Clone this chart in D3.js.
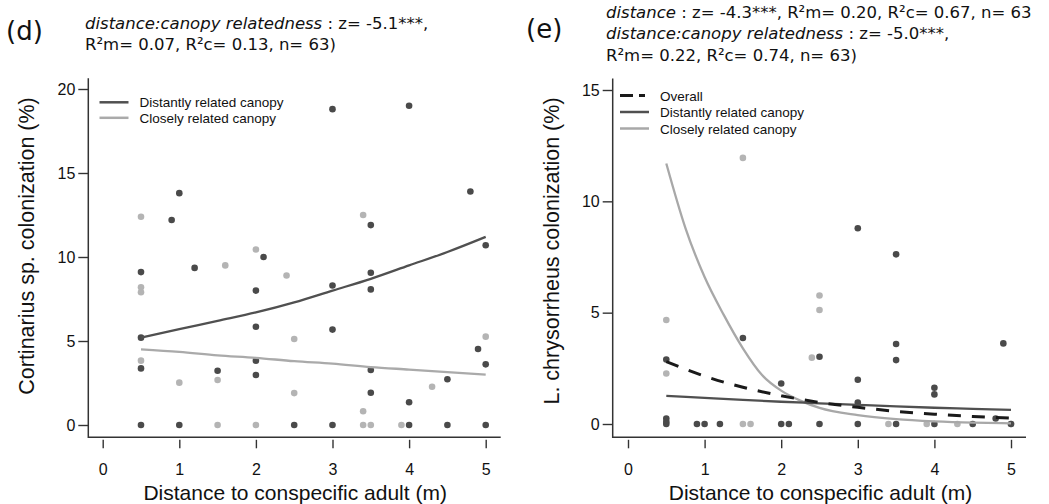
<!DOCTYPE html>
<meta charset="utf-8">
<script src="https://d3js.org/d3.v7.min.js"></script>
<style>
  body { margin: 0; background: #fff; }
  text { font-family: "Liberation Sans", Arial, sans-serif; }
  .note { font-family: "DejaVu Sans", Verdana, sans-serif; font-size: 16.5px; fill: #111; }
</style>
<div id="my_dataviz"></div>
<script>
// panel (d) : Cortinarius sp. colonization, points [distance, %]
var dDistant = [
  [0.5,9.1],[0.5,5.2],[0.5,3.37],[0.5,0],[0.9,12.2],[1,13.8],[1,0],[1.2,9.35],[1.5,3.23],
  [2,8.0],[2,5.85],[2,3.83],[2,2.98],[2.1,10.0],[2.5,0],[3,18.8],[3,8.3],[3,5.68],[3,0],
  [3.5,11.9],[3.5,9.06],[3.5,8.07],[3.5,3.27],[3.5,1.92],[4,19.0],[4,1.35],[4,0],
  [4.5,2.72],[4.5,0],[4.8,13.9],[4.9,4.52],[5,10.7],[5,3.61],[5,0]
];
var dClose = [
  [0.5,12.4],[0.5,8.2],[0.5,7.9],[0.5,3.83],[1,2.52],[1.5,2.68],[1.5,0],[1.6,9.5],
  [2,10.45],[2,0],[2.4,8.9],[2.5,5.12],[2.5,1.9],[3.4,12.5],[3.4,0.82],[3.4,0],
  [3.5,0],[3.9,0],[4.3,2.28],[5,5.26]
];
// fitted curves
var fitX = [0.5,1,1.5,2,2.5,3,3.5,4,4.5,5];
var dFitDistant = [5.2,5.7,6.2,6.7,7.3,8.0,8.7,9.5,10.3,11.2];
var dFitClose = [4.5,4.35,4.15,4.0,3.8,3.65,3.45,3.3,3.15,3.0];

// panel (e) : L. chrysorrheus colonization
var eDistant = [
  [0.5,2.9],[0.5,0.25],[0.5,0.1],[0.5,0],[0.9,0],[1,0],[1.2,0],[1.5,3.86],
  [2,1.82],[2,0],[2.1,0],[2.5,3.02],[2.5,0],[3,8.79],[3,1.99],[3,0.96],[3,0],
  [3.5,7.62],[3.5,3.59],[3.5,2.87],[3.5,0],[4,1.63],[4,1.33],[4,0],[4.5,0],
  [4.8,0.25],[4.9,3.62],[5,0]
];
var eClose = [
  [0.5,4.67],[0.5,2.27],[1.5,11.95],[1.5,0],[1.6,0],[2.4,2.98],[2.5,5.77],[2.5,5.12],
  [3.4,0],[3.9,0],[4.3,0],[5,0]
];
var eFitOverall = [2.8,2.15,1.65,1.27,0.97,0.75,0.57,0.44,0.34,0.26];
var eFitDistant = [1.26,1.17,1.08,1.0,0.93,0.86,0.79,0.73,0.68,0.63];
var eFitCloseX = [0.5,0.75,1,1.25,1.5,1.75,2,2.25,2.5,3,3.5,4,4.5,5];
var eFitClose = [11.7,8.8,6.6,4.9,3.4,2.2,1.5,1.05,0.72,0.4,0.22,0.12,0.06,0.03];

var xTicks = [0,1,2,3,4,5];
var dYTicks = [0,5,10,15,20];
var eYTicks = [0,5,10,15];

var dark = "#4a4a4a", light = "#b4b4b4", axisCol = "#333";

var svg = d3.select("#my_dataviz")
  .append("svg")
    .attr("width", 1049)
    .attr("height", 504);

function panel(p) {
  var g = svg.append("g");
  var x = d3.scaleLinear().domain([0, 5]).range([p.x0, p.x5]);
  var y = d3.scaleLinear().domain([0, p.yMax]).range([p.y0, p.yTop]);

  // L shaped frame
  g.append("path")
    .attr("d", "M" + p.ax + "," + p.frameTop + "V" + p.frameBot + "H" + (p.x5 + 15))
    .attr("fill", "none").attr("stroke", axisCol).attr("stroke-width", 1.5);

  var ya = g.append("g")
    .attr("transform", "translate(" + p.ax + ",0)")
    .call(d3.axisLeft(y).tickValues(p.yTicks).tickFormat(d3.format("d")).tickSize(10).tickPadding(3));
  ya.select(".domain").remove();

  var xa = g.append("g")
    .attr("transform", "translate(0," + (p.frameBot + 2.5) + ")")
    .call(d3.axisBottom(x).tickValues(xTicks).tickFormat(d3.format("d")).tickSize(8.5).tickPadding(15));
  xa.select(".domain").remove();

  g.selectAll(".tick line").attr("stroke", axisCol).attr("stroke-width", 1.4);
  g.selectAll(".tick text").style("font-size", "16px").attr("fill", "#111");

  // axis titles
  g.append("text")
    .attr("x", (p.x0 + p.x5) / 2 + 1).attr("y", 500)
    .attr("text-anchor", "middle").style("font-size", "21px").attr("fill", "#111")
    .text("Distance to conspecific adult (m)");
  g.append("text")
    .attr("transform", "translate(" + p.yTitleX + "," + p.yTitleY + ") rotate(-90)")
    .attr("text-anchor", "middle").style("font-size", "21.5px").attr("fill", "#111")
    .text(p.yTitle);

  // points
  g.selectAll(".pl").data(p.close).enter().append("circle")
    .attr("cx", function(d) { return x(d[0]); })
    .attr("cy", function(d) { return y(d[1]); })
    .attr("r", 3.3).attr("fill", light);
  g.selectAll(".pd").data(p.distant).enter().append("circle")
    .attr("cx", function(d) { return x(d[0]); })
    .attr("cy", function(d) { return y(d[1]); })
    .attr("r", 3.3).attr("fill", dark);

  // fitted lines
  var line = d3.line()
    .x(function(d) { return x(d[0]); })
    .y(function(d) { return y(d[1]); })
    .curve(d3.curveMonotoneX);
  p.fits.forEach(function(f) {
    g.append("path")
      .datum(d3.zip(f.xs, f.ys))
      .attr("d", line)
      .attr("fill", "none")
      .attr("stroke", f.color)
      .attr("stroke-width", f.width)
      .attr("stroke-dasharray", f.dash || null);
  });

  // legend
  p.fits.slice().reverse().forEach(function(f, i) {
    var ly = p.legY + i * p.legStep;
    g.append("line")
      .attr("x1", p.legX).attr("x2", p.legX + (f.dash ? 25 : 29))
      .attr("y1", ly).attr("y2", ly)
      .attr("stroke", f.color).attr("stroke-width", f.dash ? 3 : 2.5)
      .attr("stroke-dasharray", f.dash ? "13,6,6,50" : null);
    g.append("text")
      .attr("x", p.legX + 40).attr("y", ly + 5)
      .style("font-size", "13.5px").attr("fill", "#111")
      .text(f.label);
  });

  // panel letter and statistics
  g.append("text")
    .attr("class", "note").attr("x", p.letterX).attr("y", p.letterY)
    .style("font-size", "26px").text(p.letter);
  p.notes.forEach(function(n, i) {
    var t = g.append("text").attr("class", "note")
      .attr("x", p.noteX).attr("y", p.noteY + i * p.noteStep);
    if (n[0]) t.append("tspan").style("font-style", "italic").text(n[0]);
    t.append("tspan").text(n[1]);
  });
}

panel({
  x0: 102.7, x5: 485.7, ax: 88.3, y0: 425, yTop: 89, yMax: 20, yTicks: dYTicks,
  frameTop: 78.3, frameBot: 437.3,
  yTitle: "Cortinarius sp. colonization (%)", yTitleX: 34, yTitleY: 246,
  distant: dDistant, close: dClose,
  fits: [
    {xs: fitX, ys: dFitClose, color: "#aaaaaa", width: 2.3, label: "Closely related canopy"},
    {xs: fitX, ys: dFitDistant, color: "#505050", width: 2.3, label: "Distantly related canopy"}
  ],
  legX: 99.5, legY: 102.3, legStep: 15.5,
  letter: "(d)", letterX: 6, letterY: 40,
  noteX: 85, noteY: 29, noteStep: 21,
  notes: [["distance:canopy relatedness", " : z= -5.1***,"], ["", "R\u00b2m= 0.07, R\u00b2c= 0.13, n= 63)"]]
});

panel({
  x0: 628, x5: 1011, ax: 612.7, y0: 424, yTop: 90, yMax: 15, yTicks: eYTicks,
  frameTop: 78.5, frameBot: 437.3,
  yTitle: "L. chrysorrheus colonization (%)", yTitleX: 559, yTitleY: 251,
  distant: eDistant, close: eClose,
  fits: [
    {xs: eFitCloseX, ys: eFitClose, color: "#a8a8a8", width: 2.3, label: "Closely related canopy"},
    {xs: fitX, ys: eFitDistant, color: "#505050", width: 2.3, label: "Distantly related canopy"},
    {xs: fitX, ys: eFitOverall, color: "#1a1a1a", width: 3, dash: "13,11", label: "Overall"}
  ],
  legX: 620, legY: 95.5, legStep: 16.5,
  letter: "(e)", letterX: 526, letterY: 38,
  noteX: 606, noteY: 17.5, noteStep: 21.5,
  notes: [["distance", " : z= -4.3***, R\u00b2m= 0.20, R\u00b2c= 0.67, n= 63"],
          ["distance:canopy relatedness", " : z= -5.0***,"],
          ["", "R\u00b2m= 0.22, R\u00b2c= 0.74, n= 63)"]]
});
</script>
